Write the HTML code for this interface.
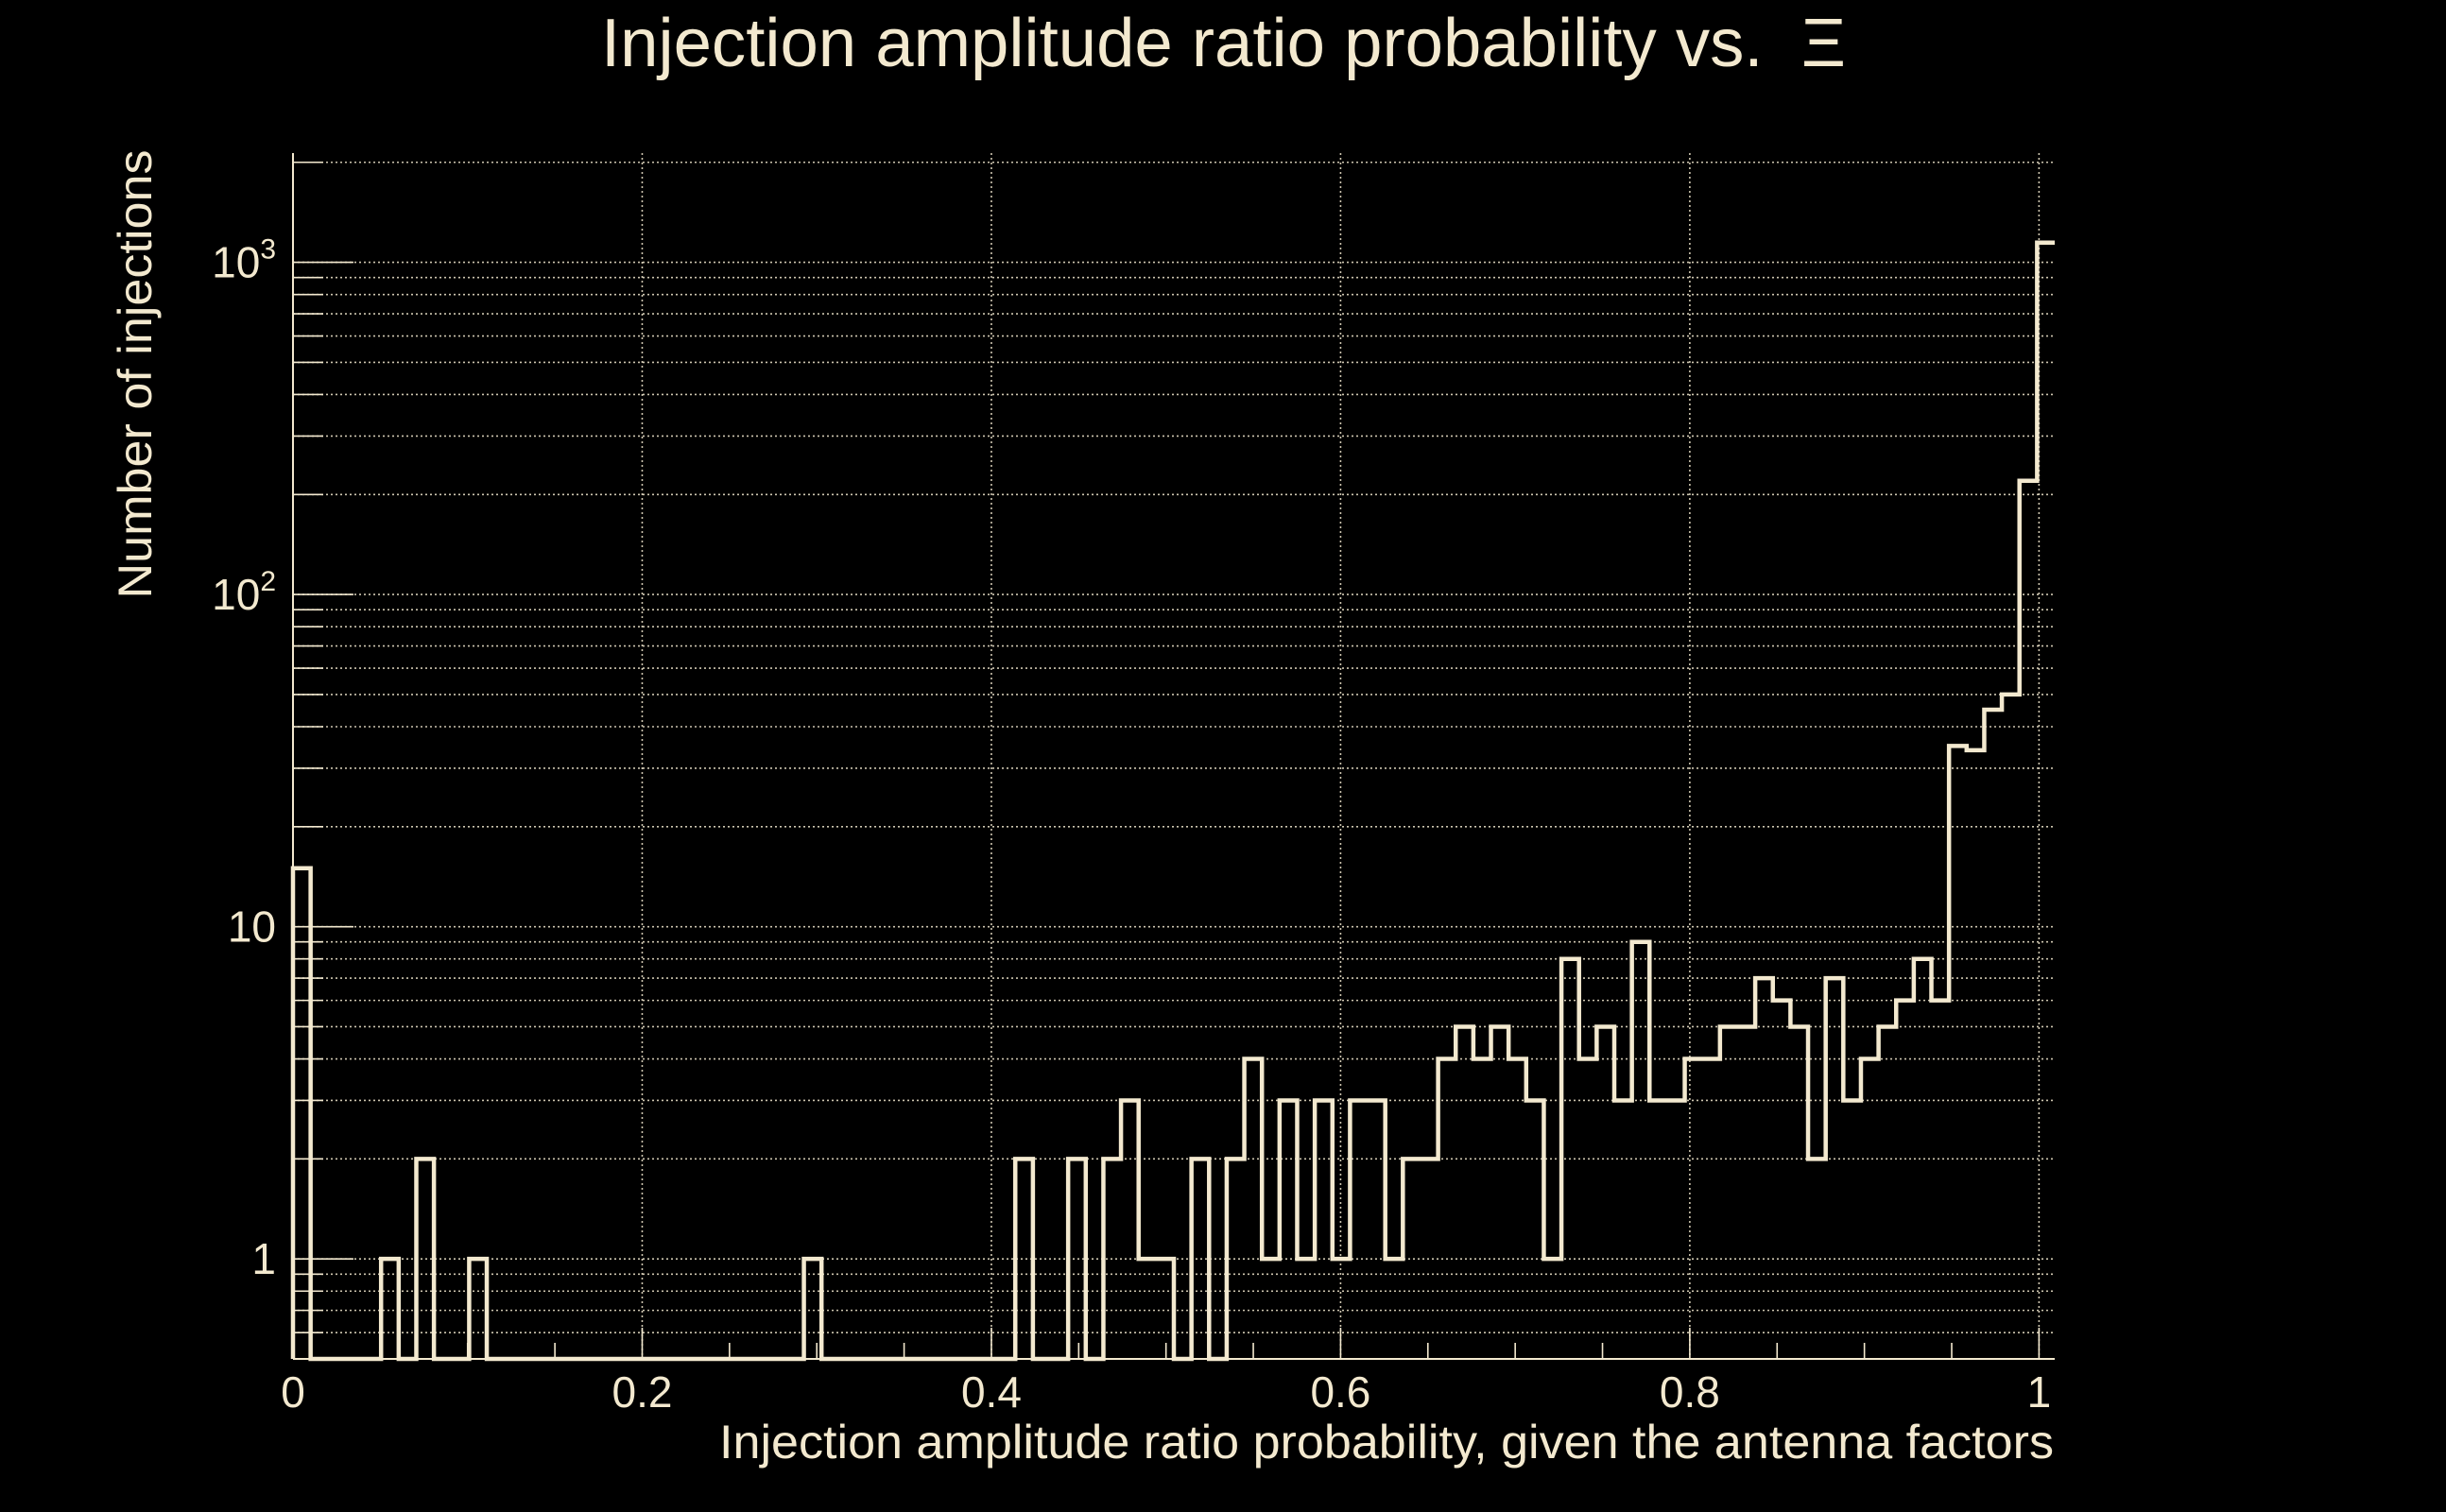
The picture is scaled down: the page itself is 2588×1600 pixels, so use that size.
<!DOCTYPE html>
<html><head><meta charset="utf-8"><style>
html,body{margin:0;padding:0;background:#000;}
svg{display:block;}
text{font-family:"Liberation Sans",sans-serif;fill:#f3e9cf;}
</style></head><body>
<svg id="chart" width="2588" height="1600" viewBox="0 0 2588 1600" xmlns="http://www.w3.org/2000/svg">
<rect width="2588" height="1600" fill="#000"/>
<text x="636" y="70" font-size="72" text-anchor="start" textLength="1317" lengthAdjust="spacingAndGlyphs">Injection amplitude ratio probability vs. &#160;Ξ</text>
<text transform="translate(160,396) rotate(-90)" font-size="50" text-anchor="middle" textLength="475" lengthAdjust="spacingAndGlyphs">Number of injections</text>
<text x="2173" y="1543" font-size="50" text-anchor="end" textLength="1412" lengthAdjust="spacingAndGlyphs">Injection amplitude ratio probability, given the antenna factors</text>
<g id="grid"></g>
<g id="axes"></g>
<g id="marks"></g>
</svg>
<script>
// bin counts, bin width 0.01009, 100 bins from 0
const binCounts = [15,0,0,0,0,1,0,2,0,0, 1,0,0,0,0,0,0,0,0,0, 0,0,0,0,0,0,0,0,0,1, 0,0,0,0,0,0,0,0,0,0, 0,2,0,0,2,0,2,3,1,1, 0,2,0,2,4,1,3,1,3,1, 3,3,1,2,2,4,5,4,5,4, 3,1,8,4,5,3,9,3,3,4, 4,5,5,7,6,5,2,7,3,4, 5,6,8,6,35,34,45,50,220,1146];
const binWidth = [0.01009];
const xTickValues = [0, 0.2, 0.4, 0.6, 0.8, 1];
const xTickLabels = ["0", "0.2", "0.4", "0.6", "0.8", "1"];
const yTickValues = [1, 10, 100, 1000];
const yTickLabels = ["1", "10", "10", "10"];
const yTickSups = ["", "", "2", "3"];

const NS = "http://www.w3.org/2000/svg";
const X0 = 310, X1 = 2174, XMAX = 1.009;
const YB = 1438, YMIN = 0.5, YMAX = 2132, YT = 162;
const C = "#f3e9cf";
function xs(v){ return X0 + (v / XMAX) * (X1 - X0); }
function ys(v){ const lv = Math.log10(Math.max(v, YMIN)); return YB - (lv - Math.log10(YMIN)) / (Math.log10(YMAX) - Math.log10(YMIN)) * (YB - YT); }
function mk(tag, attrs, parent){ const e = document.createElementNS(NS, tag); for (const k in attrs) e.setAttribute(k, attrs[k]); parent.appendChild(e); return e; }

const grid = document.getElementById('grid');
const axes = document.getElementById('axes');
const marks = document.getElementById('marks');

for (let d = -1; d <= 3; d++) {
  for (let m = 1; m <= 9; m++) {
    const v = m * Math.pow(10, d);
    if (v <= YMIN + 1e-9 || v > YMAX) continue;
    const y = ys(v);
    const gl = mk('line', {x1: X0, x2: X1, y1: y, y2: y, stroke: C, 'stroke-width': 1.6, 'stroke-dasharray': '2 3', opacity: 0.85}, grid);
    
    
    const major = (m === 1);
    const t = mk('line', {x1: X0, x2: X0 + (major ? 64 : 32), y1: y, y2: y, stroke: C, 'stroke-width': 1.6}, axes);
    
    
  }
}
xTickValues.forEach((v, i) => {
  const x = xs(v);
  if (i > 0) {
    const gl = mk('line', {x1: x, x2: x, y1: YT, y2: YB, stroke: C, 'stroke-width': 1.6, 'stroke-dasharray': '2 3', opacity: 0.85}, grid);
    
    
  }
  const t = mk('text', {x: x, y: 1489, 'font-size': 46, 'text-anchor': 'middle'}, axes);
  t.textContent = xTickLabels[i];
  
  
});
for (let k = 0; k <= 20; k++) {
  const v = k * 0.05;
  const x = xs(v);
  const major = (k % 4 === 0);
  const t = mk('line', {x1: x, x2: x, y1: YB, y2: YB - (major ? 33 : 17), stroke: C, 'stroke-width': 1.6}, axes);
  
  
}
yTickValues.forEach((v, i) => {
  const y = ys(v);
  const t = mk('text', {x: 292, y: y + 16, 'font-size': 46, 'text-anchor': 'end'}, axes);
  t.textContent = yTickLabels[i];
  if (yTickSups[i]) {
    const s = mk('tspan', {'font-size': 30, dy: -20}, t);
    s.textContent = yTickSups[i];
  }
  
  
});
const la = mk('line', {x1: X0, x2: X0, y1: YT, y2: YB, stroke: C, 'stroke-width': 2}, axes);


const ba = mk('line', {x1: X0, x2: X1, y1: YB, y2: YB, stroke: C, 'stroke-width': 2}, axes);



let d = 'M' + xs(0) + ' ' + YB;
binCounts.forEach((c, i) => {
  const xa = xs(i * binWidth[0]), xb = Math.min(xs((i + 1) * binWidth[0]), X1);
  const y = c > 0 ? ys(c) : YB;
  d += ' L' + xa + ' ' + y + ' L' + xb + ' ' + y;
});
const p = mk('path', {d: d, fill: 'none', stroke: C, 'stroke-width': 4.5, 'stroke-linejoin': 'miter'}, marks);


</script>
</body></html>
